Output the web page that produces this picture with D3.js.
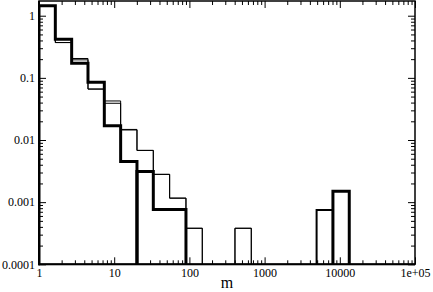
<!DOCTYPE html>
<html><head><meta charset="utf-8">
<script src="https://cdn.jsdelivr.net/npm/d3@7"></script>
<style>html,body{margin:0;padding:0;background:#fff;}svg{display:block;}</style>
</head><body>
<svg id="c" width="433" height="292"></svg>
<script>
// bin edges (log-spaced histogram bins)
const binEdges = [1, 1.6487, 2.7183, 4.4817, 7.3891, 12.182, 20.086, 33.115, 54.598, 90.017,
  148.41, 244.69, 403.43, 665.14, 1096.6, 1808.0, 2981.0, 4914.8, 8103.1, 13359.7];
// values per bin (0 = empty)
const thinA  = [1.42, 0.37, 0.205, 0.066, 0.0425, 0.0148, 0.0068, 0.0028, 0.00116, 0.00038, 0, 0, 0.00038, 0, 0, 0, 0, 0, 0];
const thinB  = [1.42, 0.37, 0.195, 0.066, 0.039, 0.0145, 0.0068, 0.0028, 0.00116, 0.00038, 0, 0, 0.00038, 0, 0, 0, 0, 0, 0];
const thickA = [1.45, 0.42, 0.172, 0.085, 0.0169, 0.0045, 0, 0, 0, 0, 0, 0, 0, 0, 0, 0, 0, 0, 0];
const thickB = [0, 0, 0, 0, 0, 0, 0.0031, 0.00076, 0.00076, 0, 0, 0, 0, 0, 0, 0, 0, 0, 0.0015];
const thickC = [0, 0, 0, 0, 0, 0, 0, 0, 0, 0, 0, 0, 0, 0, 0, 0, 0, 0.00075, 0];
const xTickLabels = ["1", "10", "100", "1000", "10000", "1e+05"];
const yTickLabels = ["0.0001", "0.001", "0.01", "0.1", "1"];
const xMajor = [1, 10, 100, 1000, 10000, 100000];
const yMajor = [0.0001, 0.001, 0.01, 0.1, 1];

const L = 39, R = 415, T = 1, B = 264.3;
const svg = d3.select("#c");
const x = d3.scaleLog().domain([1, 1e5]).range([L, R]);
const y = d3.scaleLog().domain([1e-4, 1.725]).range([B, T]);

function minors(majors) {
  const out = [];
  majors.slice(0, -1).forEach(m => { for (let k = 2; k <= 9; k++) out.push(m * k); });
  return out;
}
const font = "'Liberation Serif', 'Times New Roman', serif";

svg.append("defs").append("clipPath").attr("id", "clip")
  .append("rect").attr("x", L).attr("y", T).attr("width", R - L).attr("height", B - T);

function stepPath(vals) {
  const yy = v => v > 0 ? y(v) : B + 10;
  let d = `M${x(binEdges[0])},${B + 10}`;
  vals.forEach((v, i) => {
    d += `L${x(binEdges[i])},${yy(v)}L${x(binEdges[i + 1])},${yy(v)}`;
  });
  d += `L${x(binEdges[vals.length])},${B + 10}`;
  return d;
}
const g = svg.append("g").attr("clip-path", "url(#clip)");
[[thinA, 1], [thinB, 1], [thickC, 2], [thickA, 3], [thickB, 3]].forEach(([vals, w]) => {
  g.append("path").attr("d", stepPath(vals)).attr("fill", "none")
    .attr("stroke", "#000").attr("stroke-width", w).attr("stroke-linejoin", "miter");
});

// axes
function styleAxis(sel) {
  sel.select(".domain").remove();
  sel.selectAll("line").attr("stroke", "#000").attr("stroke-width", 1);
  sel.selectAll("text").attr("font-family", font).attr("font-size", 12).attr("fill", "#000");
}
svg.append("g").attr("transform", `translate(0,${B})`)
  .call(d3.axisBottom(x).tickValues(xMajor).tickSize(-7).tickPadding(4).tickFormat((d, i) => xTickLabels[i]))
  .call(styleAxis);
svg.append("g").attr("transform", `translate(0,${B})`)
  .call(d3.axisBottom(x).tickValues(minors(xMajor)).tickSize(-4).tickFormat(""))
  .call(styleAxis);
svg.append("g").attr("transform", `translate(0,${T})`)
  .call(d3.axisTop(x).tickValues(xMajor).tickSize(-7).tickFormat(""))
  .call(styleAxis);
svg.append("g").attr("transform", `translate(0,${T})`)
  .call(d3.axisTop(x).tickValues(minors(xMajor)).tickSize(-4).tickFormat(""))
  .call(styleAxis);
svg.append("g").attr("transform", `translate(${L},0)`)
  .call(d3.axisLeft(y).tickValues(yMajor).tickSize(-7).tickPadding(4).tickFormat((d, i) => yTickLabels[i]))
  .call(styleAxis);
svg.append("g").attr("transform", `translate(${L},0)`)
  .call(d3.axisLeft(y).tickValues(minors(yMajor)).tickSize(-4).tickFormat(""))
  .call(styleAxis);
svg.append("g").attr("transform", `translate(${R},0)`)
  .call(d3.axisRight(y).tickValues(yMajor).tickSize(-7).tickFormat(""))
  .call(styleAxis);
svg.append("g").attr("transform", `translate(${R},0)`)
  .call(d3.axisRight(y).tickValues(minors(yMajor)).tickSize(-4).tickFormat(""))
  .call(styleAxis);

// frame
svg.append("rect").attr("x", L).attr("y", T).attr("width", R - L).attr("height", B - T)
  .attr("fill", "none").attr("stroke", "#000").attr("stroke-width", 1.5);
svg.append("line").attr("x1", L).attr("x2", L).attr("y1", T).attr("y2", B + 1)
  .attr("stroke", "#000").attr("stroke-width", 2);
svg.append("line").attr("x1", L - 1).attr("x2", R).attr("y1", B).attr("y2", B)
  .attr("stroke", "#000").attr("stroke-width", 2);

svg.append("text").attr("x", (L + R) / 2).attr("y", 287.5).attr("text-anchor", "middle")
  .attr("font-family", font).attr("font-size", 16).text("m");
</script>
</body></html>
